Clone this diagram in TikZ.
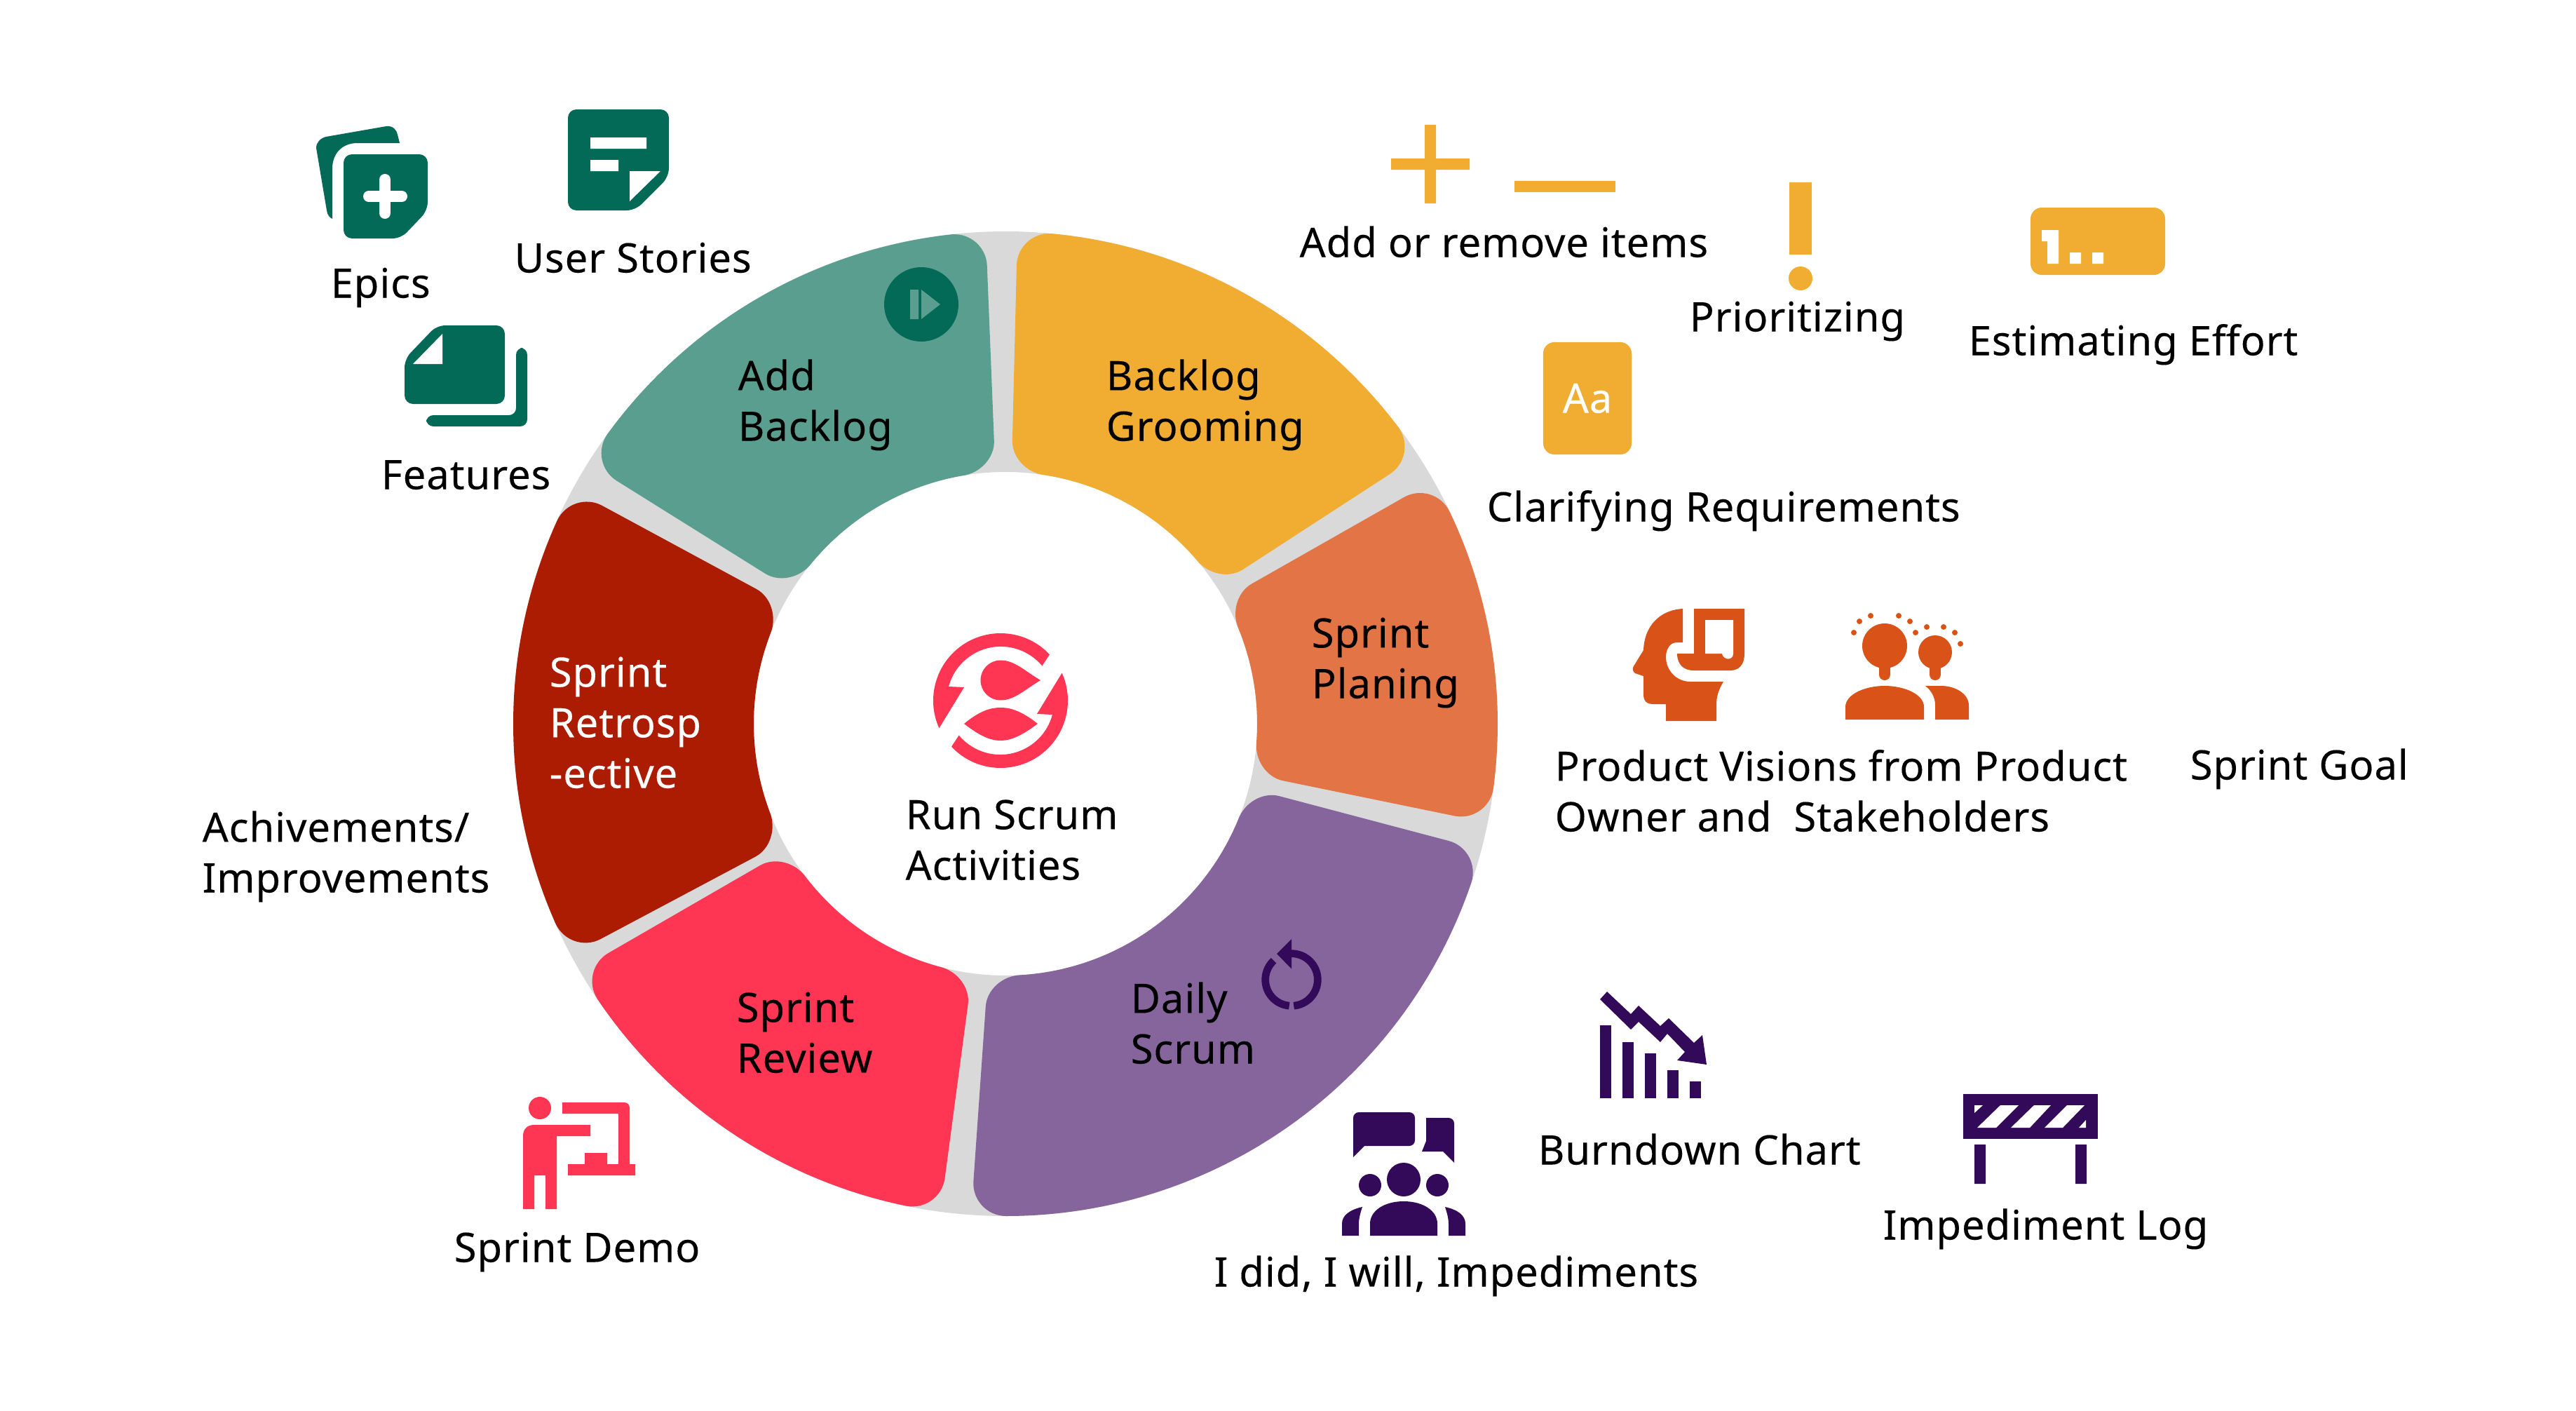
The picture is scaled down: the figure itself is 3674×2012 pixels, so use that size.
\documentclass[tikz,border=0pt]{standalone}
\usepackage{fontspec}
\setmainfont[LetterSpace=1.5,FakeBold=0.2]{Noto Sans}
\definecolor{tealpart}{HTML}{5A9E90}
\definecolor{tealicon}{HTML}{046A58}
\definecolor{yellowpart}{HTML}{F0AD32}
\definecolor{orangepart}{HTML}{E27445}
\definecolor{orangeicon}{HTML}{D95218}
\definecolor{purplepart}{HTML}{85659B}
\definecolor{purpleicon}{HTML}{330A59}
\definecolor{redpart}{HTML}{FF3653}
\definecolor{darkredpart}{HTML}{AB1C03}
\definecolor{ringgrey}{HTML}{D9D9D9}
\begin{document}
\begin{tikzpicture}
[x=0.01cm,y=-0.01cm,
  labeldecorate/.style={anchor=base west,inner sep=0pt,align=left,yshift=-0.015cm,font=\fontsize{16.5}{20.5}\selectfont},
  tealdecorate/.style={fill=tealicon},
  yellowdecorate/.style={fill=yellowpart},
  orangedecorate/.style={fill=orangeicon},
  purpledecorate/.style={fill=purpleicon},
  reddecorate/.style={fill=redpart}]
\useasboundingbox (0,0) rectangle (3674,2012);
%% ring and its parts
\begin{scope}[shift={(1434,1032)},y=0.01cm]
  \fill[ringgrey,even odd rule] (0,0) circle (702) (0,0) circle (359);
  \foreach \partcol/\from/\upto in {tealpart/92.3/148, yellowpart/33/88.6,
    orangepart/-11.6/29.6, purplepart/-94/-14.8, redpart/-150/-97.6,
    darkredpart/151.6/208} {
    \fill[\partcol] (\from+4:702) arc[start angle=\from+4,end angle=\upto-4,radius=702]
      .. controls (\upto-1.8:702) and (\upto:680) .. (\upto:654) -- (\upto:404)
      .. controls (\upto:380) and (\upto-3.4:359) .. (\upto-7.5:359)
      arc[start angle=\upto-7.5,end angle=\from+7.5,radius=359]
      .. controls (\from+3.4:359) and (\from:380) .. (\from:404) -- (\from:654)
      .. controls (\from:680) and (\from+1.8:702) .. (\from+4:702) -- cycle;
  }
\end{scope}
%% labels
\foreach \nodename/\x/\y/\labeltext in {epics/471/423/Epics,
  stories/733/387/User Stories, features/543/696/Features,
  items/1853/365/Add or remove items, priority/2409/471/Prioritizing,
  effort/2807/505/Estimating Effort, clarify/2120/742/Clarifying Requirements,
  visions/2217/1184/{Product Visions from Product\\Owner and~ Stakeholders},
  goal/3123/1110/Sprint Goal, addpart/1052/627/{Add\\Backlog},
  grooming/1577/627/{Backlog\\Grooming}, planing/1870/994/{Sprint\\Planing},
  activities/1291/1253/{Run Scrum\\Activities}, achieved/288/1271/{Achivements/\\Improvements},
  daily/1612/1515/{Daily\\Scrum}, review/1050/1528/{Sprint\\Review},
  demo/647/1798/Sprint Demo, impediments/1731/1833/{I did, I will, Impediments},
  burndown/2193/1659/Burndown Chart, implog/2685/1766/Impediment Log} {
  \node (\nodename) at (\x,\y) [labeldecorate] {\labeltext};
}
\node (retro) at (783,1122) [labeldecorate,text=white] {Sprint\\Retrosp\\-ective};
%% teal icons
\fill[tealdecorate] (451,211) .. controls (451,203) and (457,197) .. (465,195) -- (551,180)
  .. controls (560,179) and (566,185) .. (567,192) -- (570,204) -- (510,204)
  .. controls (485,204) and (474,222) .. (474,240) -- (474,312) .. controls (470,310) and (467,307) .. (466,300) -- cycle;
\fill[tealdecorate,rounded corners=0.12cm] (490,220) -- (610,220) -- (610,300) -- (572,340) -- (490,340) -- cycle;
\draw[white,line width=0.16cm,line cap=round] (549,256) -- (549,304) (526,280) -- (573,280);
\fill[tealdecorate,rounded corners=0.12cm] (810,156) -- (954,156) -- (954,252) -- (906,300) -- (810,300) -- cycle;
\fill[white] (842,196) rectangle (922,212) (842,228) rectangle (882,244);
\fill[white] (898,244) -- (942,244) -- (898,287) -- cycle;
\fill[tealdecorate,rounded corners=0.12cm] (623,464) -- (720,464) -- (720,576) -- (577,576) -- (577,512) -- cycle;
\fill[white] (631,476) -- (631,519) -- (589,519) -- cycle;
\fill[tealdecorate,rounded corners=0.1cm] (736,496) -- (752,496) -- (752,608) -- (608,608) -- (608,592) -- (736,592) -- cycle;
\fill[tealdecorate] (1314,434) circle (53);
\fill[tealpart] (1298,413) rectangle (1310,455) (1314,413) -- (1341,434) -- (1314,455) -- cycle;
%% logo in the middle
\begin{scope}[shift={(1427,999)},y=0.01cm]
  \foreach \rot in {0,180} {
    \fill[reddecorate,rotate=\rot] (43.2:96) arc[start angle=43.2,end angle=204.2,radius=96]
      -- (-52,19) -- (-74,20) arc[start angle=165,end angle=40,radius=77] -- cycle;
  }
  \fill[reddecorate] (57,29) .. controls (35,42) and (20,57.5) .. (0,57.5)
    arc[start angle=90,end angle=270,radius=28.5] .. controls (20,0.5) and (35,16) .. (57,29) -- cycle;
  \fill[reddecorate] (-52,-33) .. controls (-30,-15) and (-15,-10) .. (0,-10)
    .. controls (15,-10) and (30,-15) .. (53,-33) .. controls (30,-50) and (15,-57) .. (0,-57)
    .. controls (-15,-57) and (-30,-50) .. (-52,-33) -- cycle;
\end{scope}
%% yellow icons
\fill[yellowdecorate] (2032,178) rectangle (2048,290) (1984,226) rectangle (2096,242);
\fill[yellowdecorate] (2160,258) rectangle (2304,274);
\fill[yellowdecorate] (2552,260) rectangle (2584,363);
\fill[yellowdecorate] (2568,397) circle (17);
\fill[yellowdecorate,rounded corners=0.16cm] (2896,296) rectangle (3088,392);
\fill[white] (2920,328) rectangle (2936,376) (2912,328) rectangle (2920,344)
  (2952,360) rectangle (2968,376) (2984,360) rectangle (3000,376);
\node (aabox) at (2264,568) [minimum width=1.26cm,minimum height=1.6cm,inner sep=0pt,
  yellowdecorate,rounded corners=0.16cm,text=white,font=\fontsize{16.5}{20.5}\selectfont] {Aa};
%% orange icons
\fill[orangedecorate] (2400,868) -- (2400,916) -- (2392,916) .. controls (2382,916) and (2376,925) .. (2376,937)
  .. controls (2376,955) and (2390,972) .. (2411,972) -- (2458,972) .. controls (2450,985) and (2448,995) .. (2448,1005)
  -- (2448,1028) -- (2376,1028) -- (2376,1004) -- (2358,1004) .. controls (2349,1004) and (2344,1000) .. (2344,990)
  -- (2344,964) -- (2332,960) .. controls (2328,957) and (2328,953) .. (2330,950) -- (2344,927)
  .. controls (2345,895) and (2365,870) .. (2400,868) -- cycle;
\fill[orangedecorate] (2416,868) -- (2488,868) -- (2488,932) .. controls (2488,948) and (2480,956) .. (2468,956)
  -- (2415,956) .. controls (2402,956) and (2392,948) .. (2392,932) -- (2416,932) -- cycle;
\fill[white] (2432,884) -- (2472,884) -- (2472,932) .. controls (2472,942) and (2458,942) .. (2456,932) -- (2432,932) -- cycle;
\fill[orangedecorate] (2688,921) circle (32) (2760,930) circle (24);
\draw[orangeicon,line width=0.16cm,line cap=round] (2688,945) -- (2688,962) (2760,945) -- (2760,962);
\fill[orangedecorate] (2632,1026) -- (2632,1008) .. controls (2632,990) and (2660,978) .. (2688,978)
  .. controls (2716,978) and (2744,990) .. (2744,1008) -- (2744,1026) -- cycle;
\fill[orangedecorate] (2746,978) -- (2768,978) .. controls (2790,978) and (2808,990) .. (2808,1006)
  -- (2808,1026) -- (2760,1026) -- (2760,1005) .. controls (2760,995) and (2755,985) .. (2746,978) -- cycle;
\foreach \x/\y in {2644/902, 2652/886, 2668/878, 2708/878, 2724/886, 2732/902,
  2748/894, 2772/894, 2788/902, 2796/918} {
  \fill[orangedecorate] (\x,\y) circle (4);
}
%% purple icons
\begin{scope}[shift={(1842,1397)},y=0.01cm]
  \draw[purpleicon,line width=0.107cm] (90:37.3) arc[start angle=90,end angle=-85,radius=37.3];
  \draw[purpleicon,line width=0.107cm] (-95:37.3) arc[start angle=-95,end angle=-227,radius=37.3];
  \fill[purpledecorate] (0,58) -- (-21,37) -- (0,15.5) -- cycle;
\end{scope}
\foreach \x/\y in {2282/1462, 2314/1486, 2346/1502, 2378/1526, 2410/1542} {
  \fill[purpledecorate] (\x,\y) rectangle (\x+16,1566);
}
\fill[purpledecorate] (2292,1414) -- (2282,1425) -- (2326,1468) -- (2337,1457) -- (2368,1486) -- (2378,1474)
  -- (2403,1500) -- (2392,1512) -- (2434,1518) -- (2428,1476) -- (2416,1487) -- (2380,1452) -- (2368,1463)
  -- (2337,1434) -- (2326,1446) -- cycle;
\fill[purpledecorate] (2800,1560) rectangle (2992,1624);
\fill[white] (2816,1576) -- (2828,1576) -- (2816,1587) -- cycle
  (2853,1576) -- (2879,1576) -- (2847,1608) -- (2820,1608) -- cycle
  (2901,1576) -- (2925,1576) -- (2895,1608) -- (2868,1608) -- cycle
  (2948,1576) -- (2973,1576) -- (2942,1608) -- (2916,1608) -- cycle
  (2975,1597) -- (2975,1608) -- (2965,1608) -- cycle;
\fill[purpledecorate] (2816,1632) rectangle (2832,1688) (2960,1632) rectangle (2976,1688);
\fill[purpledecorate] (1930,1650) [rounded corners=0.08cm] -- (1930,1586) -- (2018,1586) -- (2018,1634) [sharp corners] -- (1946,1634) -- cycle;
\fill[purpledecorate] (2074,1658) -- (2058,1642) -- (2028,1642) -- (2034,1627) -- (2034,1594) [rounded corners=0.08cm] -- (2074,1594) [sharp corners] -- cycle;
\fill[purpledecorate] (2002,1682) circle (24) (1954,1690) circle (16) (2050,1690) circle (16);
\fill[purpledecorate] (1954,1762) -- (1954,1745) .. controls (1954,1726) and (1975,1713) .. (2002,1713)
  .. controls (2029,1713) and (2050,1726) .. (2050,1745) -- (2050,1762) -- cycle;
\fill[purpledecorate] (1938,1762) -- (1914,1762) -- (1914,1745) .. controls (1914,1733) and (1925,1725) .. (1943,1721)
  .. controls (1940,1730) and (1938,1738) .. (1938,1745) -- cycle;
\fill[purpledecorate] (2066,1762) -- (2090,1762) -- (2090,1745) .. controls (2090,1733) and (2079,1725) .. (2061,1721)
  .. controls (2064,1730) and (2066,1738) .. (2066,1745) -- cycle;
%% red icon
\fill[reddecorate] (770,1580) circle (16);
\fill[reddecorate] (746,1724) -- (746,1620) .. controls (746,1610) and (752,1604) .. (762,1604) -- (842,1604)
  -- (842,1620) -- (794,1620) -- (794,1724) -- (778,1724) -- (778,1676) -- (762,1676) -- (762,1724) -- cycle;
\fill[reddecorate] (802,1572) -- (890,1572) .. controls (895,1572) and (898,1575) .. (898,1580) -- (898,1660)
  -- (906,1660) -- (906,1676) -- (810,1676) -- (810,1660) -- (834,1660) -- (834,1644) -- (866,1644) -- (866,1660)
  -- (882,1660) -- (882,1588) -- (802,1588) -- cycle;
\end{tikzpicture}
\end{document}
